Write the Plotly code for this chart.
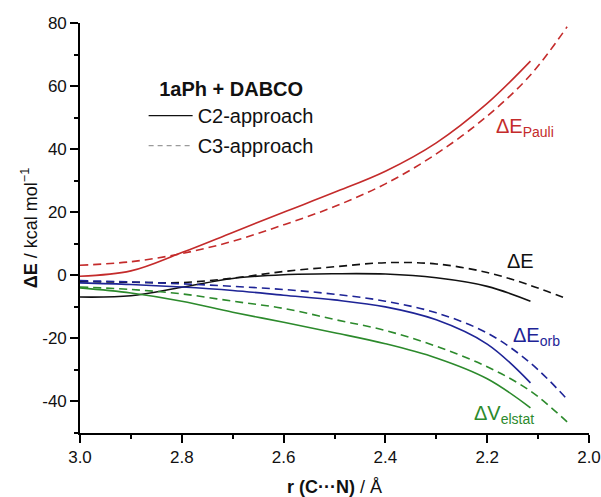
import plotly.graph_objects as go

# ---- data ----
r_c2 = [3.0, 2.9, 2.8, 2.7, 2.6, 2.5, 2.4, 2.3, 2.2, 2.115]
r_c3 = [3.0, 2.9, 2.8, 2.7, 2.6, 2.5, 2.4, 2.3, 2.2, 2.115, 2.043]

pauli_c2 = [-0.3, 1.4, 7.2, 13.6, 20.0, 26.3, 33.0, 42.0, 54.5, 67.9]
pauli_c3 = [3.2, 4.3, 6.9, 10.8, 16.0, 21.8, 29.0, 38.5, 50.5, 63.5, 78.8]
de_c2 = [-6.9, -6.5, -3.8, -1.0, 0.2, 0.5, 0.4, -0.8, -3.5, -8.2]
de_c3 = [-2.0, -2.2, -2.3, -0.9, 1.2, 2.7, 4.0, 3.6, 0.9, -3.2, -7.5]
orb_c2 = [-2.4, -2.9, -3.7, -4.8, -6.3, -7.8, -10.0, -14.1, -21.8, -34.1]
orb_c3 = [-1.7, -2.1, -2.7, -3.5, -4.5, -6.0, -8.2, -11.9, -18.3, -27.8, -39.3]
elst_c2 = [-4.0, -5.6, -8.2, -11.7, -14.9, -18.2, -21.7, -26.2, -32.8, -42.0]
elst_c3 = [-3.7, -4.5, -5.9, -8.2, -10.5, -14.0, -17.5, -22.5, -29.0, -36.7, -46.5]

x_tickvals = [3.0, 2.8, 2.6, 2.4, 2.2, 2.0]
x_ticktext = ["3.0", "2.8", "2.6", "2.4", "2.2", "2.0"]
y_tickvals = [80, 60, 40, 20, 0, -20, -40]
y_ticktext = ["80", "60", "40", "20", "0", "-20", "-40"]

series = [
    ("ΔE<sub>Pauli</sub>", pauli_c2, pauli_c3, "#C42B2B"),
    ("ΔE", de_c2, de_c3, "#111111"),
    ("ΔE<sub>orb</sub>", orb_c2, orb_c3, "#1E2496"),
    ("ΔV<sub>elstat</sub>", elst_c2, elst_c3, "#2C8A2C"),
]

FONT = "Liberation Sans, Arial, sans-serif"
DASH = "8px,5px"

fig = go.Figure()
for name, y2, y3, col in series:
    fig.add_trace(go.Scatter(x=r_c2, y=y2, mode="lines", showlegend=False,
                             line=dict(color=col, width=1.6, shape="spline", smoothing=1.0)))
    fig.add_trace(go.Scatter(x=r_c3, y=y3, mode="lines", showlegend=False,
                             line=dict(color=col, width=1.6, dash=DASH, shape="spline", smoothing=1.0)))

# legend entries
fig.add_trace(go.Scatter(x=[None], y=[None], mode="lines", name="C2-approach",
                         line=dict(color="#111111", width=1.4), legendgroup="a"))
fig.add_trace(go.Scatter(x=[None], y=[None], mode="lines", name="C3-approach",
                         line=dict(color="#9a9a9a", width=1.2, dash="5px,4px"), legendgroup="b"))

# curve labels
labels = [
    ("ΔE<sub>Pauli</sub>", 2.126, 47.0, "#C42B2B"),
    ("ΔE", 2.134, 4.5, "#111111"),
    ("ΔE<sub>orb</sub>", 2.104, -19.5, "#1E2496"),
    ("ΔV<sub>elstat</sub>", 2.167, -44.0, "#2C8A2C"),
]
for txt, lx, ly, col in labels:
    fig.add_annotation(x=lx, y=ly, text=txt, showarrow=False, xanchor="center", yanchor="middle",
                       font=dict(family=FONT, size=20, color=col))

axis_common = dict(showline=True, linecolor="black", linewidth=1.6, ticks="outside",
                   ticklen=8, tickwidth=1.6, tickcolor="black", showgrid=False, zeroline=False,
                   automargin=False,
                   tickfont=dict(family=FONT, size=17, color="#111111"))

fig.update_layout(
    width=601, height=497,
    margin=dict(l=80, r=12, t=23, b=64),
    paper_bgcolor="white", plot_bgcolor="white",
    font=dict(family=FONT, color="#111111"),
    xaxis=dict(range=[3.0, 2.0], tickvals=x_tickvals, ticktext=x_ticktext,
               minor=dict(dtick=0.1, ticks="outside", ticklen=4, tickwidth=1.6, tickcolor="black"),
               title=dict(text="<b>r (C···N)</b> / Å", font=dict(family=FONT, size=18), standoff=14),
               **axis_common),
    yaxis=dict(range=[-50, 80], tickvals=y_tickvals, ticktext=y_ticktext,
               minor=dict(dtick=10, ticks="outside", ticklen=4, tickwidth=1.6, tickcolor="black"),
               title=dict(text="<b>ΔE</b> / kcal mol<sup>−1</sup>", font=dict(family=FONT, size=18), standoff=0),
               **axis_common),
    legend=dict(x=0.125, y=0.885, xanchor="left", yanchor="top", bgcolor="rgba(0,0,0,0)",
                title=dict(text="<b>1aPh + DABCO</b>", font=dict(family=FONT, size=20), side="top center"),
                font=dict(family=FONT, size=20), tracegroupgap=1, itemwidth=44),
)

fig.write_html("out.html", config={"displayModeBar": False},
               post_script="document.body.style.margin='0';document.body.style.padding='0';")
